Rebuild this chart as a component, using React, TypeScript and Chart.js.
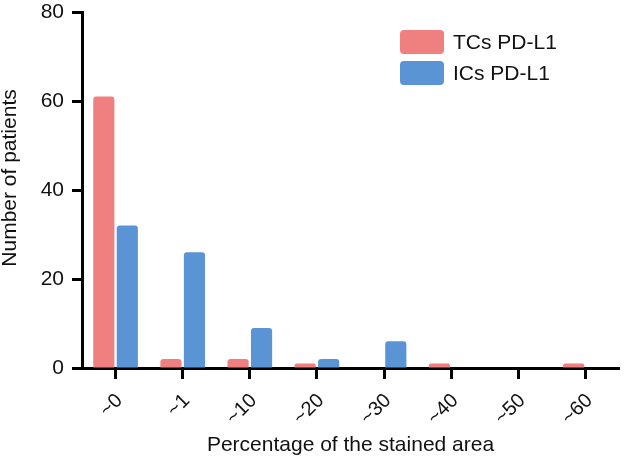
import React, { useEffect, useRef } from "react";
import { Chart, registerables } from "chart.js";

Chart.register(...registerables);

const categories = ["~0", "~1", "~10", "~20", "~30", "~40", "~50", "~60"];
const tcsValues = [61, 2, 2, 1, 0, 1, 0, 1];
const icsValues = [32, 26, 9, 2, 6, 0, 0, 0];
const seriesNames = ["TCs PD-L1", "ICs PD-L1"];
const seriesColors = ["#F07F80", "#5A94D4"];
const yTicks = [0, 20, 40, 60, 80];
const yTitle = "Number of patients";
const xTitle = "Percentage of the stained area";

const FONT = "'Liberation Sans', Arial, Helvetica, sans-serif";

const insideLegend = {
  id: "insideLegend",
  afterDraw(chart: any) {
    const ctx = chart.ctx;
    const x0 = 400;
    const rows = [42, 73];
    ctx.save();
    chart.data.datasets.forEach((ds: any, i: number) => {
      const cy = rows[i];
      ctx.fillStyle = ds.backgroundColor;
      ctx.beginPath();
      (ctx as any).roundRect(x0, cy - 12, 44, 24, 4);
      ctx.fill();
      ctx.fillStyle = "#111";
      ctx.font = `21px ${FONT}`;
      ctx.textBaseline = "middle";
      ctx.textAlign = "left";
      ctx.fillText(ds.label, x0 + 53, cy + 1);
    });
    // y-axis title
    ctx.translate(10, 178);
    ctx.rotate(-Math.PI / 2);
    ctx.fillStyle = "#111";
    ctx.font = `21px ${FONT}`;
    ctx.textAlign = "center";
    ctx.textBaseline = "middle";
    ctx.fillText(yTitle, 0, 0);
    ctx.restore();
  },
};

export default function App() {
  const ref = useRef<HTMLCanvasElement>(null);
  useEffect(() => {
    if (!ref.current) return;
    const chart = new Chart(ref.current, {
      type: "bar",
      data: {
        labels: categories,
        datasets: [
          {
            label: seriesNames[0],
            data: tcsValues,
            backgroundColor: seriesColors[0],
            borderRadius: 3,
            borderSkipped: "bottom",
            barPercentage: 0.9,
            categoryPercentage: 0.7,
          },
          {
            label: seriesNames[1],
            data: icsValues,
            backgroundColor: seriesColors[1],
            borderRadius: 3,
            borderSkipped: "bottom",
            barPercentage: 0.9,
            categoryPercentage: 0.7,
          },
        ],
      },
      options: {
        responsive: false,
        animation: false,
        layout: { padding: { top: 12, right: 8, left: 0, bottom: 0 } },
        plugins: {
          legend: { display: false },
          tooltip: { enabled: false },
        },
        scales: {
          x: {
            offset: true,
            afterFit(scale: any) {
              scale.height = 91;
              scale.paddingLeft = 0;
              scale.paddingRight = 0;
            },
            border: { display: true, color: "#000", width: 3 },
            grid: {
              offset: false,
              drawOnChartArea: false,
              drawTicks: true,
              tickLength: 11,
              tickWidth: 3,
              tickColor: "#000",
            },
            ticks: {
              color: "#111",
              font: { family: FONT, size: 20 },
              minRotation: 45,
              maxRotation: 45,
              padding: 10,
              labelOffset: 4,
            },
            title: {
              display: true,
              text: xTitle,
              color: "#111",
              font: { family: FONT, size: 21 },
              padding: { top: 4, bottom: 1 },
            },
          },
          y: {
            min: 0,
            max: 80,
            afterBuildTicks(scale: any) {
              scale.ticks = yTicks.map((v) => ({ value: v }));
            },
            afterFit(scale: any) {
              scale.width = 82;
              scale.paddingTop = 0;
              scale.paddingBottom = 0;
            },
            border: { display: true, color: "#000", width: 3 },
            grid: {
              drawOnChartArea: false,
              drawTicks: true,
              tickLength: 10,
              tickWidth: 3,
              tickColor: "#000",
            },
            ticks: {
              color: "#111",
              font: { family: FONT, size: 21 },
              padding: 8,
            },
            title: { display: false },
          },
        },
      },
      plugins: [insideLegend],
    });
    return () => chart.destroy();
  }, []);
  return (
    <div style={{ position: "fixed", left: 0, top: 0, width: 627, height: 459, background: "#fff" }}>
      <canvas ref={ref} width={627} height={459} style={{ display: "block" }} />
    </div>
  );
}
